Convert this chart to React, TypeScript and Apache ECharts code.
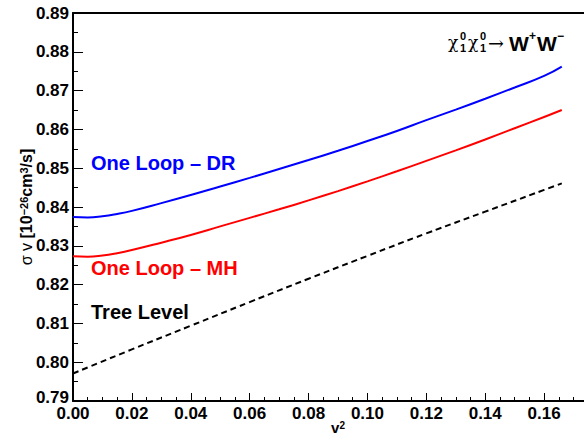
import React, { useEffect, useRef } from "react";
import * as echarts from "echarts";

const xValues = [0, 0.005, 0.01, 0.015, 0.02, 0.03, 0.04, 0.05, 0.06, 0.07, 0.08, 0.09, 0.1, 0.11, 0.12, 0.13, 0.14, 0.15, 0.16, 0.166];
const oneLoopDR = [0.8374, 0.8373, 0.8376, 0.8382, 0.839, 0.841, 0.8431, 0.8453, 0.8475, 0.8498, 0.8521, 0.8545, 0.857, 0.8596, 0.8624, 0.8651, 0.8679, 0.8708, 0.8738, 0.8762];
const oneLoopMH = [0.8273, 0.8272, 0.8275, 0.8281, 0.8289, 0.8308, 0.8328, 0.835, 0.8372, 0.8394, 0.8417, 0.8441, 0.8466, 0.8492, 0.8519, 0.8546, 0.8574, 0.8603, 0.8632, 0.865];
const treeX = [0, 0.02, 0.04, 0.06, 0.08, 0.1, 0.12, 0.14, 0.16, 0.166];
const treeLevel = [0.7971, 0.8033, 0.8094, 0.8155, 0.8215, 0.8274, 0.8332, 0.8388, 0.8444, 0.8461];

const FONT = "Liberation Sans, Arial, Helvetica, sans-serif";
const SERIF = "DejaVu Serif, serif";

export default function App() {
  const ref = useRef<HTMLDivElement>(null);
  useEffect(() => {
    if (!ref.current) return;
    const chart = echarts.init(ref.current, null, { renderer: "svg" });
    const pair = (xs: number[], ys: number[]) => xs.map((x, i) => [x, ys[i]]);
    const txt = (x: number, y: number, text: string, size: number, bold: boolean, fill = "#000", family = FONT) => ({
      type: "text",
      x,
      y,
      style: { text, fill, fontSize: size, fontWeight: bold ? "bold" : "normal", fontFamily: family, verticalAlign: "middle" },
    });
    chart.setOption({
      animation: false,
      backgroundColor: "#ffffff",
      grid: { left: 73, top: 13, right: -19, bottom: 36, containLabel: false, outerBoundsMode: "none" },
      xAxis: [
        {
          type: "value",
          min: 0,
          max: 0.18,
          interval: 0.02,
          name: "{b|v}{sup|2}",
          nameLocation: "middle",
          nameGap: 19,
          nameMoveOverlap: false,
          nameTextStyle: {
            rich: {
              b: { fontSize: 15, fontWeight: "bold", fontFamily: FONT, color: "#000" },
              sup: { fontSize: 10, fontWeight: "bold", fontFamily: FONT, color: "#000", verticalAlign: "top" },
            },
          },
          axisLine: { show: true, lineStyle: { color: "#000", width: 2 } },
          axisTick: { show: true, inside: true, length: 8, lineStyle: { color: "#000", width: 1 } },
          minorTick: { show: true, splitNumber: 4, length: 4, lineStyle: { color: "#000", width: 1 } },
          axisLabel: {
            color: "#000",
            fontSize: 17,
            fontWeight: "bold",
            fontFamily: FONT,
            margin: 4,
            formatter: (v: number) => (v > 0.165 ? "" : v.toFixed(2)),
          },
          splitLine: { show: false },
        },
        {
          type: "value",
          position: "top",
          min: 0,
          max: 0.18,
          axisLine: { show: true, lineStyle: { color: "#000", width: 2 } },
          axisTick: { show: false },
          axisLabel: { show: false },
          splitLine: { show: false },
        },
      ],
      yAxis: {
        type: "value",
        min: 0.79,
        max: 0.89,
        interval: 0.01,
        name: "{g|σ v }{b|[10}{sup|−26}{b|cm}{sup|3}{b|/s]}",
        nameLocation: "middle",
        nameRotate: 90,
        nameGap: 39,
        nameMoveOverlap: false,
        nameTextStyle: {
          rich: {
            g: { fontSize: 16, fontFamily: FONT, color: "#000" },
            b: { fontSize: 16, fontWeight: "bold", fontFamily: FONT, color: "#000" },
            sup: { fontSize: 11, fontWeight: "bold", fontFamily: FONT, color: "#000", verticalAlign: "top" },
          },
        },
        axisLine: { show: true, lineStyle: { color: "#000", width: 2 } },
        axisTick: { show: true, inside: true, length: 10, lineStyle: { color: "#000", width: 1 } },
        minorTick: { show: true, splitNumber: 2, length: 5, lineStyle: { color: "#000", width: 1 } },
        axisLabel: {
          color: "#000",
          fontSize: 17,
          fontWeight: "bold",
          fontFamily: FONT,
          margin: 4,
          formatter: (v: number) => (v < 0.7905 ? "{lo|" + v.toFixed(2) + "}" : v.toFixed(2)),
          rich: {
            lo: { fontSize: 17, fontWeight: "bold", fontFamily: FONT, color: "#000", padding: [0, 0, 8, 0] },
          },
        },
        splitLine: { show: false },
      },
      series: [
        {
          type: "line",
          data: pair(xValues, oneLoopDR),
          smooth: true,
          showSymbol: false,
          lineStyle: { color: "#0000ff", width: 2 },
        },
        {
          type: "line",
          data: pair(xValues, oneLoopMH),
          smooth: true,
          showSymbol: false,
          lineStyle: { color: "#ff0000", width: 2 },
        },
        {
          type: "line",
          data: pair(treeX, treeLevel),
          smooth: true,
          showSymbol: false,
          lineStyle: { color: "#000000", width: 2, type: [6, 4] },
        },
      ],
      graphic: [
        txt(91, 163, "One Loop – DR", 20, true, "#0000ff"),
        txt(91, 268, "One Loop – MH", 20, true, "#ff0000"),
        txt(91, 312, "Tree Level", 20, true, "#000000"),
        txt(448, 42, "χ", 17, false, "#000", SERIF),
        txt(460, 36, "0", 11, true),
        txt(460, 48, "1", 11, true),
        txt(468, 42, "χ", 17, false, "#000", SERIF),
        txt(480, 36, "0", 11, true),
        txt(480, 48, "1", 11, true),
        txt(488, 43, "→", 19, false, "#000", SERIF),
        txt(509, 43, "W", 21, true),
        txt(529, 36, "+", 12, true),
        txt(537, 43, "W", 21, true),
        txt(557, 36, "−", 12, true),
      ],
    });
    return () => chart.dispose();
  }, []);
  return <div ref={ref} style={{ position: "fixed", left: 0, top: 0, width: 584, height: 437, background: "#fff" }} />;
}
